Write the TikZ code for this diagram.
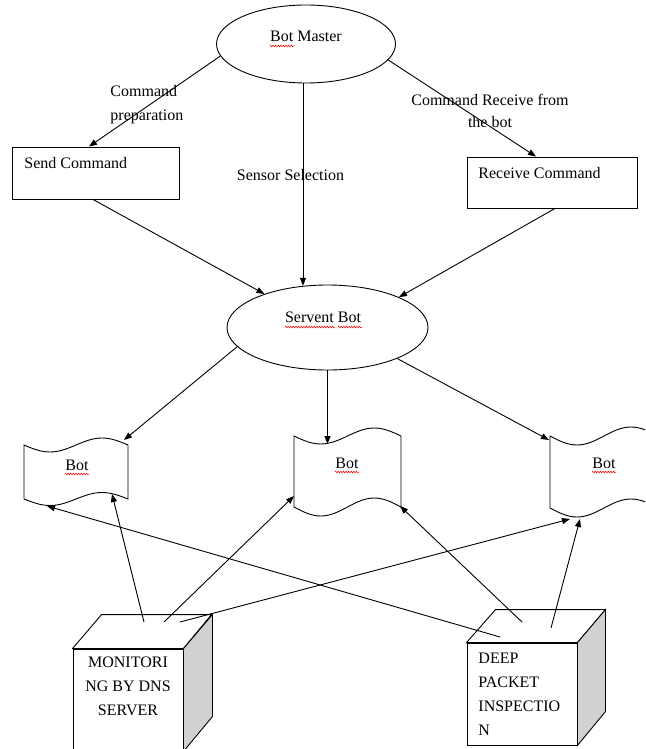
\documentclass[tikz,border=0pt]{standalone}
\usepackage{fontspec}
\setmainfont{Liberation Serif}
\usetikzlibrary{arrows.meta,calc,decorations.pathmorphing,shapes.geometric}

\begin{document}
\begin{tikzpicture}[x=1pt,y=-1pt,
  line width=0.9pt,
  every node/.style={font=\fontsize{16}{24}\selectfont, inner sep=0pt},
  oval/.style={draw, ellipse},
  box/.style={draw, rectangle},
  arr/.style={-{Triangle[length=8pt,width=6pt]}},
  squig/.style={draw=red, line width=0.5pt, decorate,
    decoration={zigzag, segment length=2.6pt, amplitude=0.9pt}},
  sideface/.style={draw, fill=black!18},
  topface/.style={draw, fill=white},
]
\useasboundingbox (0,0) rectangle (645,749);
\clip (0,0) rectangle (645,749);

% --- top level: bot master and the two command boxes
\node[oval, minimum width=179pt, minimum height=78pt] (bm) at (306,44) {};
\node[anchor=base] (bmt) at (306,42) {Bot Master};
\draw[squig] ($(bmt.base west)+(0,4)$) -- ++(24,0);

\node[box, minimum width=167pt, minimum height=52pt] (sc) at (95.5,173) {};
\node[anchor=base west] (sct) at (24,168) {Send Command};

\node[box, minimum width=170pt, minimum height=51pt] (rc) at (552,182.5) {};
\node[anchor=base west] (rct) at (478,178) {Receive Command};

% --- servent bot
\node[oval, minimum width=201pt, minimum height=85pt] (sb) at (327.5,327.5) {};
\node[anchor=base] (sbt) at (323,322) {Servent Bot};
\draw[squig] (285,327) -- (335,327);
\draw[squig] (338,327) -- (362,327);

% --- edge labels (multi-line nodes: base is the last line)
\node[anchor=base west, align=left] (lp) at (110,121) {Command\\preparation};
\node[anchor=base, align=center,
      font=\fontsize{16}{22}\selectfont] (lr) at (490,128) {Command Receive from\\the bot};
\node[anchor=base] (ls) at (290.5,180) {Sensor Selection};

% --- connectors around the servent bot
\draw[arr] (bm.188) -- ([xshift=-6.5pt]sc.north);
\draw[arr] ([xshift=-3pt]bm.south) -- ([xshift=-3pt]bm.south |- sb.120.7);
\draw[arr] (bm.349.7) -- ([xshift=-16pt]rc.north);
\draw[arr] ([xshift=-2.5pt]sc.south) -- (sb.152.6);
\draw[arr] ([xshift=3pt]rc.south) -- (sb.23.1);

% --- the three bots (wavy flag outlines)
\draw (24,445) sin (50,452) cos (76,445) sin (102,438) cos (128,445)
  -- (128,499) sin (102,492.5) cos (76,499) sin (50,505.5) cos (24,499) -- cycle;
\node[anchor=base] (b1) at (77,470) {Bot};
\draw[squig] ($(b1.base west)+(0,4)$) -- ($(b1.base east)+(0,4)$);

\draw (294,436) sin (320.75,444) cos (347.5,436) sin (374.25,428) cos (401,436)
  -- (401,507) sin (374.25,498) cos (347.5,507) sin (320.75,516) cos (294,507) -- cycle;
\node[anchor=base] (b2) at (347,468) {Bot};
\draw[squig] ($(b2.base west)+(0,4)$) -- ($(b2.base east)+(0,4)$);

\draw (550,436) sin (577,445) cos (604,436) sin (631,427) cos (658,436)
  -- (658,508) sin (631,499) cos (604,508) sin (577,517) cos (550,508) -- cycle;
\node[anchor=base] (b3) at (604,468) {Bot};
\draw[squig] ($(b3.base west)+(0,4)$) -- ($(b3.base east)+(0,4)$);

\coordinate (b1in) at (124,440);
\coordinate (b1l) at (112,494);
\coordinate (b1r) at (47,506);
\coordinate (b2in) at (327.5,444);
\coordinate (b2l) at (294,496);
\coordinate (b2r) at (400,506);
\coordinate (b3in) at (549,440);
\coordinate (b3l) at (570,519);
\coordinate (b3r) at (580,519);

\draw[arr] (sb.192.9) -- (b1in);
\draw[arr] (sb.south) -- (b2in);
\draw[arr] (sb.336.5) -- (b3in);

% --- monitoring cube
\node[box, fill=white, minimum width=110pt, minimum height=102pt] (mon) at (128,700) {};
\draw[topface] (mon.north west) -- ++(29,-34) -- ++(110,0) -- (mon.north east) -- cycle;
\draw[sideface] (mon.north east) -- ++(29,-34) -- ++(0,102) -- (mon.south east) -- cycle;
\node[anchor=base, align=center] (mont) at (128,715) {MONITORI\\NG BY DNS\\SERVER};

% --- deep packet inspection cube
\node[box, fill=white, minimum width=110pt, minimum height=102pt] (dpi) at (522,694) {};
\draw[topface] (dpi.north west) -- ++(29,-33) -- ++(110,0) -- (dpi.north east) -- cycle;
\draw[sideface] (dpi.north east) -- ++(28,-33) -- ++(0,102) -- (dpi.south east) -- cycle;
\node[anchor=base west, align=left] (dpit) at (478,735) {DEEP\\PACKET\\INSPECTIO\\N};

\coordinate (m1) at (144,622);
\coordinate (m2) at (164,622);
\coordinate (m3) at (180,622);
\coordinate (d1) at (500,637);
\coordinate (d2) at (522,622);
\coordinate (d3) at (551,628);

\draw[arr] (m1) -- (b1l);
\draw[arr] (m2) -- (b2l);
\draw[arr] (m3) -- (b3l);
\draw[arr] (d1) -- (b1r);
\draw[arr] (d2) -- (b2r);
\draw[arr] (d3) -- (b3r);
\end{tikzpicture}
\end{document}
